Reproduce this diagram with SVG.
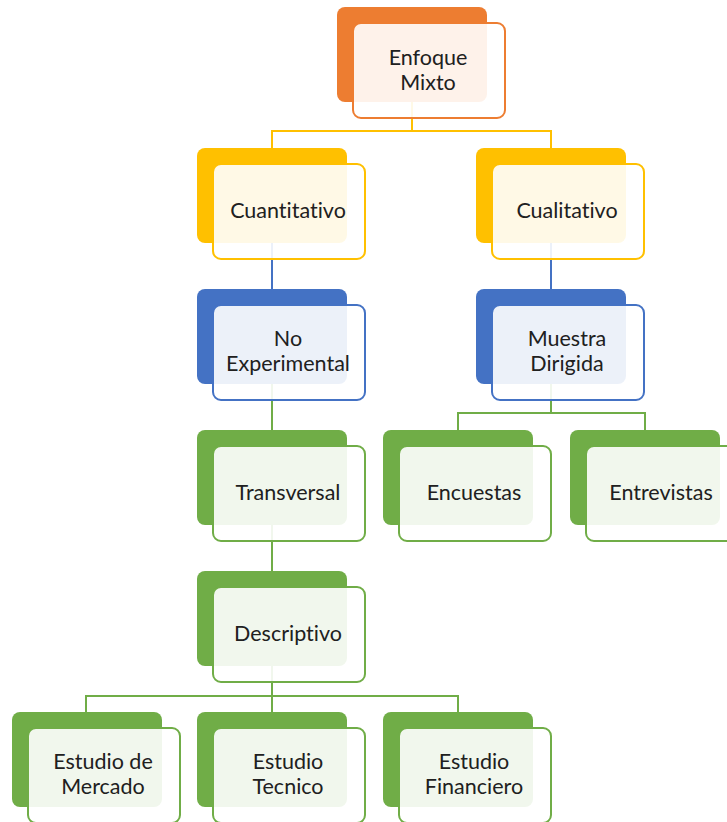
<svg xmlns="http://www.w3.org/2000/svg" width="727" height="822" viewBox="0 0 727 822">
<style>
.bk{stroke:none}
.fr{fill:#ffffff;fill-opacity:0.9;stroke-width:2}
.o .bk{fill:#ed7d31}.o .fr{stroke:#ed7d31}
.y .bk{fill:#ffc000}.y .fr{stroke:#ffc000}
.b .bk{fill:#4472c4}.b .fr{stroke:#4472c4}
.g .bk{fill:#70ad47}.g .fr{stroke:#70ad47}
text{font-family:Lato,"Liberation Sans",sans-serif;font-size:21.5px;fill:#202020;text-anchor:middle;font-variant-ligatures:none}
.c{fill:none;stroke-width:2}
</style>
<g id="connectors">
<path class="c" stroke="#ffc000" d="M412,102V131M272,148V131H551V148"/>
<path class="c" stroke="#4472c4" d="M272,243V289M551,243V289"/>
<path class="c" stroke="#70ad47" d="M272,384V430M551,384V413M458,430V413H645V430M272,525V571M272,666V696M86,712V696H458V712M272,696V712"/>
</g>
<g id="enfoque" class="o"><rect class="bk" x="337" y="7" width="150" height="95" rx="8"/><rect class="fr" x="353" y="23" width="152" height="95" rx="8"/><text x="428" y="65">Enfoque</text><text x="428" y="90">Mixto</text></g>
<g id="cuantitativo" class="y"><rect class="bk" x="197" y="148" width="150" height="95" rx="8"/><rect class="fr" x="213" y="164" width="152" height="95" rx="8"/><text x="288" y="218">Cuantitativo</text></g>
<g id="cualitativo" class="y"><rect class="bk" x="476" y="148" width="150" height="95" rx="8"/><rect class="fr" x="492" y="164" width="152" height="95" rx="8"/><text x="567" y="218">Cualitativo</text></g>
<g id="noexperimental" class="b"><rect class="bk" x="197" y="289" width="150" height="95" rx="8"/><rect class="fr" x="213" y="305" width="152" height="95" rx="8"/><text x="288" y="346">No</text><text x="288" y="371">Experimental</text></g>
<g id="muestra" class="b"><rect class="bk" x="476" y="289" width="150" height="95" rx="8"/><rect class="fr" x="492" y="305" width="152" height="95" rx="8"/><text x="567" y="346">Muestra</text><text x="567" y="371">Dirigida</text></g>
<g id="transversal" class="g"><rect class="bk" x="197" y="430" width="150" height="95" rx="8"/><rect class="fr" x="213" y="446" width="152" height="95" rx="8"/><text x="288" y="500">Transversal</text></g>
<g id="encuestas" class="g"><rect class="bk" x="383" y="430" width="150" height="95" rx="8"/><rect class="fr" x="399" y="446" width="152" height="95" rx="8"/><text x="474" y="500">Encuestas</text></g>
<g id="entrevistas" class="g"><rect class="bk" x="570" y="430" width="150" height="95" rx="8"/><rect class="fr" x="586" y="446" width="152" height="95" rx="8"/><text x="661" y="500">Entrevistas</text></g>
<g id="descriptivo" class="g"><rect class="bk" x="197" y="571" width="150" height="95" rx="8"/><rect class="fr" x="213" y="587" width="152" height="95" rx="8"/><text x="288" y="641">Descriptivo</text></g>
<g id="mercado" class="g"><rect class="bk" x="12" y="712" width="150" height="95" rx="8"/><rect class="fr" x="28" y="728" width="152" height="95" rx="8"/><text x="103" y="769">Estudio de</text><text x="103" y="794">Mercado</text></g>
<g id="tecnico" class="g"><rect class="bk" x="197" y="712" width="150" height="95" rx="8"/><rect class="fr" x="213" y="728" width="152" height="95" rx="8"/><text x="288" y="769">Estudio</text><text x="288" y="794">Tecnico</text></g>
<g id="financiero" class="g"><rect class="bk" x="383" y="712" width="150" height="95" rx="8"/><rect class="fr" x="399" y="728" width="152" height="95" rx="8"/><text x="474" y="769">Estudio</text><text x="474" y="794">Financiero</text></g>
</svg>
